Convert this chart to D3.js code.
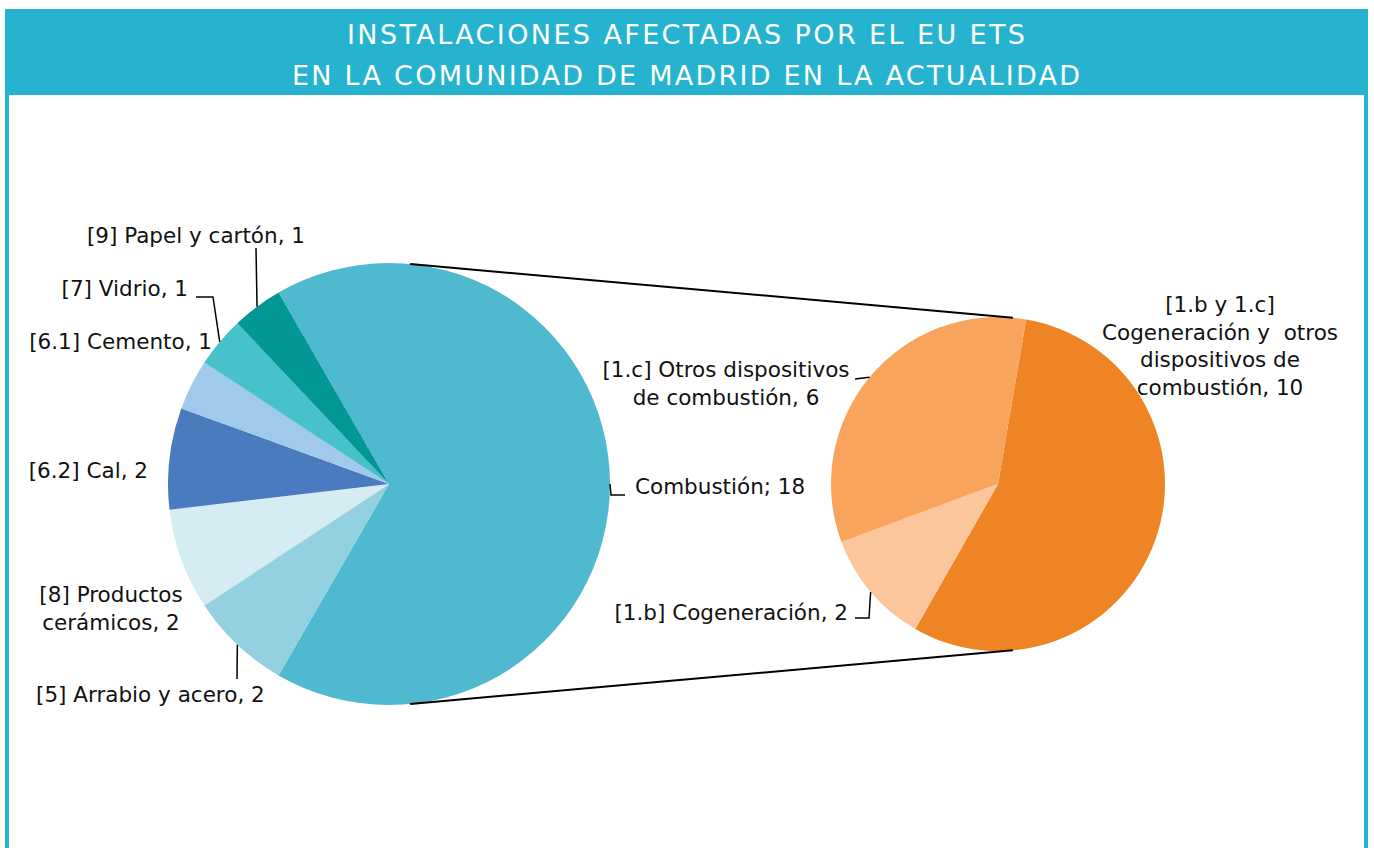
<!DOCTYPE html>
<html>
<head>
<meta charset="utf-8">
<script src="https://cdn.jsdelivr.net/npm/d3@7"></script>
<style>
  body { margin: 0; background: #fff; }
  svg { display: block; }
  .lbl { font-family: "DejaVu Sans", sans-serif; font-size: 21.5px; fill: #111; }
  .ttl { font-family: "DejaVu Sans", sans-serif; font-size: 27px; fill: #fff; }
</style>
</head>
<body>
<script>
// data - left pie (sectors) and right pie (breakdown of Combustión)
var titleLines = ["INSTALACIONES AFECTADAS POR EL EU ETS", "EN LA COMUNIDAD DE MADRID EN LA ACTUALIDAD"];

var leftNames  = ["Combustión", "[5] Arrabio y acero", "[8] Productos cerámicos", "[6.2] Cal", "[6.1] Cemento", "[7] Vidrio", "[9] Papel y cartón"];
var leftValues = [18, 2, 2, 2, 1, 1, 1];
var leftColors = ["#4fb9d0", "#93d0e0", "#d6ecf3", "#4a7bbf", "#a0c9eb", "#47c1ca", "#009795"];

var rightNames  = ["[1.b y 1.c] Cogeneración y  otros dispositivos de combustión", "[1.b] Cogeneración", "[1.c] Otros dispositivos de combustión"];
var rightValues = [10, 2, 6];
var rightColors = ["#ef8424", "#fcc69c", "#f9a45c"];

var W = 1374, H = 848;
var teal = "#26b3cf";

var svg = d3.select("body").append("svg")
            .attr("width", W)
            .attr("height", H);

// frame: header band + side borders
svg.append("rect").attr("x", 5).attr("y", 9).attr("width", 1363).attr("height", 86).attr("fill", teal);
svg.append("rect").attr("x", 5).attr("y", 9).attr("width", 4).attr("height", H).attr("fill", teal);
svg.append("rect").attr("x", 1364).attr("y", 9).attr("width", 4).attr("height", H).attr("fill", teal);

var titleWidths = [678, 788];
titleLines.forEach(function(t, i) {
  svg.append("text")
     .attr("class", "ttl")
     .attr("x", 686)
     .attr("y", 44 + i * 41)
     .attr("text-anchor", "middle")
     .attr("textLength", titleWidths[i])
     .attr("lengthAdjust", "spacing")
     .text(t);
});

// pies
var L = { cx: 389, cy: 484, r: 221 };
var R = { cx: 998, cy: 484, r: 167 };

var deg = Math.PI / 180;
var pieLeft = d3.pie().sort(null).startAngle(-30 * deg).endAngle(330 * deg);
var pieRight = d3.pie().sort(null).startAngle(9.7 * deg).endAngle(369.7 * deg);

var leftArcs = pieLeft(leftValues);
var rightArcs = pieRight(rightValues);

var arcL = d3.arc().innerRadius(0).outerRadius(L.r);
var arcR = d3.arc().innerRadius(0).outerRadius(R.r);

svg.append("g").attr("transform", "translate(" + L.cx + "," + L.cy + ")")
   .selectAll("path").data(leftArcs).enter().append("path")
   .attr("d", arcL)
   .attr("fill", function(d, i) { return leftColors[i]; });

svg.append("g").attr("transform", "translate(" + R.cx + "," + R.cy + ")")
   .selectAll("path").data(rightArcs).enter().append("path")
   .attr("d", arcR)
   .attr("fill", function(d, i) { return rightColors[i]; });

// point on the rim of a pie at angle a (clockwise from 12 o'clock)
function rim(p, a) {
  return [p.cx + p.r * Math.sin(a), p.cy - p.r * Math.cos(a)];
}
function mid(d) { return (d.startAngle + d.endAngle) / 2; }

// connector lines between the two pies
var connAngle = [5.5, 5.1];
svg.append("line")
   .attr("x1", rim(L, connAngle[0] * deg)[0]).attr("y1", rim(L, connAngle[0] * deg)[1])
   .attr("x2", rim(R, connAngle[1] * deg)[0]).attr("y2", rim(R, connAngle[1] * deg)[1])
   .attr("stroke", "#000").attr("stroke-width", 2);
svg.append("line")
   .attr("x1", rim(L, (180 - connAngle[0]) * deg)[0]).attr("y1", rim(L, (180 - connAngle[0]) * deg)[1])
   .attr("x2", rim(R, (180 - connAngle[1]) * deg)[0]).attr("y2", rim(R, (180 - connAngle[1]) * deg)[1])
   .attr("stroke", "#000").attr("stroke-width", 2);

// labels: text lines, anchor, position, and leader elbows (null = no leader)
var leftLabels = [
  { lines: ["Combustión; 18"], anchor: "start", x: 635, y: 494, leader: [[611, 495], [625, 495]] },
  { lines: ["[5] Arrabio y acero, 2"], anchor: "start", x: 36, y: 702, leader: [[237, 679]] },
  { lines: ["[8] Productos", "cerámicos, 2"], anchor: "middle", x: 111, y: 602, leader: null },
  { lines: ["[6.2] Cal, 2"], anchor: "end", x: 148, y: 478, leader: null },
  { lines: ["[6.1] Cemento, 1"], anchor: "end", x: 212, y: 349, leader: null },
  { lines: ["[7] Vidrio, 1"], anchor: "end", x: 188, y: 296, leader: [[213, 297], [196, 297]] },
  { lines: ["[9] Papel y cartón, 1"], anchor: "end", x: 305, y: 243, leader: [[256, 248]] }
];
var rightLabels = [
  { lines: ["[1.b y 1.c]", "Cogeneración y  otros", "dispositivos de", "combustión, 10"], anchor: "middle", x: 1220, y: 312, leader: null },
  { lines: ["[1.b] Cogeneración, 2"], anchor: "end", x: 848, y: 620, leader: [[869, 618], [855, 618]] },
  { lines: ["[1.c] Otros dispositivos", "de combustión, 6"], anchor: "middle", x: 726, y: 377, leader: [[855, 379]] }
];

function drawLabels(arcs, labels, p) {
  labels.forEach(function(lb, i) {
    var t = svg.append("text")
               .attr("class", "lbl")
               .attr("text-anchor", lb.anchor)
               .attr("x", lb.x)
               .attr("y", lb.y);
    lb.lines.forEach(function(s, j) {
      t.append("tspan").attr("x", lb.x).attr("dy", j === 0 ? 0 : 27.5).style("white-space", "pre").text(s);
    });
    if (lb.leader) {
      var pts = [rim(p, mid(arcs[i]))].concat(lb.leader);
      svg.append("path")
         .attr("d", d3.line()(pts))
         .attr("fill", "none")
         .attr("stroke", "#000")
         .attr("stroke-width", 1.5);
    }
  });
}
drawLabels(leftArcs, leftLabels, L);
drawLabels(rightArcs, rightLabels, R);
</script>
</body>
</html>
